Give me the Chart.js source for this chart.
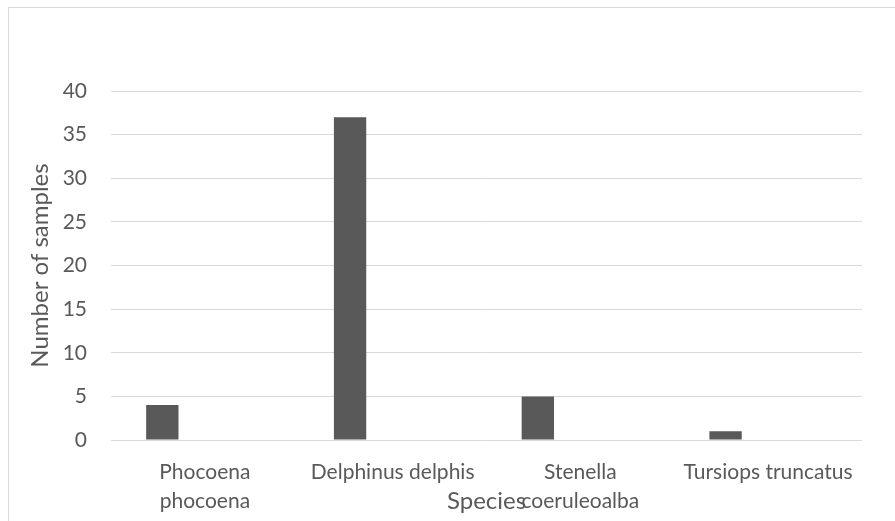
<!DOCTYPE html>
<html>
<head>
<meta charset="utf-8">
<script src="https://cdn.jsdelivr.net/npm/chart.js@4/dist/chart.umd.min.js"></script>
<style>
  html, body { margin: 0; padding: 0; background: #ffffff; }
  #wrap { position: relative; width: 895px; height: 521px; overflow: hidden; }
  #frame { position: absolute; left: 8px; top: 7px; width: 1000px; height: 1000px;
           border-left: 1px solid #d9d9d9; border-top: 1px solid #d9d9d9; }
  canvas { position: absolute; left: 0; top: 0; }
</style>
</head>
<body>
<div id="wrap">
  <div id="frame"></div>
  <canvas id="chart" width="895" height="521"></canvas>
</div>
<script>
// Samples collected per species
const species = [
  ['Phocoena', 'phocoena'],
  'Delphinus delphis',
  ['Stenella', 'coeruleoalba'],
  'Tursiops truncatus'
];
const sampleCounts = [4, 37, 5, 1];
// second series in the workbook has no entries
const emptySeries = [null, null, null, null];

const yTicks = { min: 0, max: 40, step: 5 };

const textColor = '#595959';
const gridColor = '#d9d9d9';
const fontFamily = 'Lato, "Open Sans", sans-serif';

new Chart(document.getElementById('chart'), {
  type: 'bar',
  data: {
    labels: species,
    datasets: [
      {
        label: 'Number of samples',
        data: sampleCounts,
        backgroundColor: '#595959',
        borderWidth: 0,
        barPercentage: 0.38,
        categoryPercentage: 0.9066
      },
      {
        label: 'Series 2',
        data: emptySeries,
        backgroundColor: '#a5a5a5',
        borderWidth: 0,
        barPercentage: 0.38,
        categoryPercentage: 0.9066
      }
    ]
  },
  options: {
    responsive: false,
    animation: false,
    devicePixelRatio: 1,
    layout: { padding: { left: 8, right: 33, top: 91, bottom: 0 } },
    plugins: {
      legend: { display: false },
      tooltip: { enabled: false }
    },
    scales: {
      x: {
        grid: { display: false, drawTicks: false },
        border: { display: false },
        ticks: {
          color: textColor,
          padding: 18,
          maxRotation: 0,
          autoSkip: false,
          font: { family: fontFamily, size: 21, lineHeight: 1.38 }
        },
        title: {
          display: true,
          text: 'Species',
          color: textColor,
          padding: { top: 0, bottom: 5 },
          font: { family: fontFamily, size: 24, lineHeight: 1.2 }
        },
        afterFit: (scale) => { scale.height = 81; }
      },
      y: {
        min: yTicks.min,
        max: yTicks.max,
        grid: { color: gridColor, lineWidth: 1, drawTicks: false },
        border: { display: false },
        ticks: {
          stepSize: yTicks.step,
          color: textColor,
          padding: 24,
          font: { family: fontFamily, size: 21 }
        },
        title: {
          display: true,
          text: 'Number of samples',
          color: textColor,
          padding: { top: 18, bottom: 0 },
          font: { family: fontFamily, size: 24, lineHeight: 1.2 }
        },
        afterFit: (scale) => { scale.width = 103; }
      }
    }
  }
});
</script>
</body>
</html>
